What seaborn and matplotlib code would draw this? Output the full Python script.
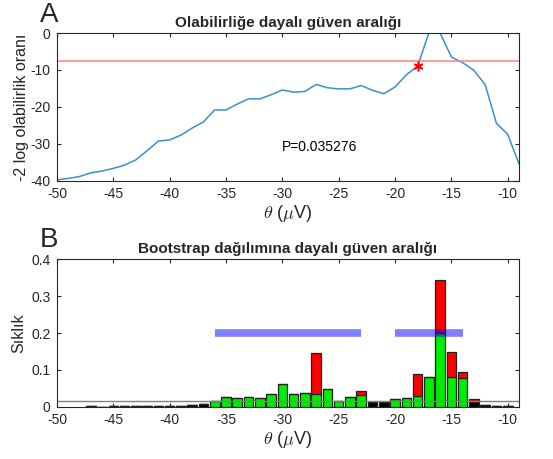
import numpy as np
import pandas as pd
import matplotlib
matplotlib.use('Agg')
import matplotlib.pyplot as plt
import seaborn as sns

# --- panel A: profile likelihood ---
theta_lik = [-50, -49, -48, -47, -46, -45, -44, -43, -42, -41, -40, -39, -38, -37,
             -36, -35, -34, -33, -32, -31, -30, -29, -28, -27, -26, -25, -24, -23,
             -22, -21, -20, -19, -18, -17, -16, -15, -14, -13, -12, -11, -10, -9]
loglik = [-39.7, -39.3, -38.8, -37.8, -37.3, -36.6, -35.7, -34.3, -31.8, -29.2, -28.9,
          -27.6, -25.7, -24.0, -20.8, -20.8, -19.2, -17.8, -17.8, -16.7, -15.4, -16.0,
          -15.8, -13.9, -14.8, -15.1, -15.1, -14.2, -15.5, -16.4, -14.6, -11.3, -9.0,
          0.0, 0.0, -6.5, -8.0, -10.1, -14.0, -24.4, -27.4, -35.4]
threshold = -7.7
star_theta, star_val = -18, -8.8
p_text = 'P=0.035276'

# --- panel B: bootstrap distribution ---
theta_boot = [-47, -45, -44, -43, -42, -41, -40, -39, -38, -37, -36, -35, -34, -33,
              -32, -31, -30, -29, -28, -27, -26, -25, -24, -23, -22, -21, -20, -19,
              -18, -17, -16, -15, -14, -13, -12, -11, -10]
green = [0, 0, 0, 0, 0, 0, 0, 0, 0, 0, 0.017, 0.027, 0.025, 0.027, 0.025, 0.036,
         0.061, 0.036, 0.039, 0.036, 0.049, 0.017, 0.027, 0.033, 0, 0, 0.021, 0.024,
         0.030, 0.082, 0.200, 0.082, 0.078, 0, 0, 0, 0]
red = [0, 0, 0, 0, 0, 0, 0, 0, 0, 0, 0, 0, 0, 0, 0, 0, 0, 0, 0, 0.111, 0, 0, 0,
       0.009, 0, 0, 0, 0, 0.058, 0, 0.143, 0.066, 0.016, 0.006, 0, 0, 0]
black = [0.003, 0.002, 0.002, 0.002, 0.002, 0.002, 0.002, 0.003, 0.006, 0.009, 0, 0,
         0, 0, 0, 0, 0, 0, 0, 0, 0, 0, 0, 0, 0.013, 0.013, 0, 0, 0, 0, 0, 0, 0,
         0.015, 0.005, 0.003, 0.003]
baseline = 0.016
ci_segments = [(-36, -23), (-20, -14)]
ci_level = 0.2

sns.set_theme(style='white')
plt.rcParams['font.family'] = ['Liberation Sans', 'DejaVu Sans']
plt.rcParams['mathtext.fontset'] = 'cm'
plt.rcParams['axes.unicode_minus'] = False
axcol = '#262626'

fig = plt.figure(figsize=(5.53, 4.59), dpi=100)
ax1 = fig.add_axes([0.103, 0.6057, 0.8355, 0.3224])
ax2 = fig.add_axes([0.103, 0.1133, 0.8355, 0.3224])

# panel A
lik = pd.DataFrame({'theta': theta_lik, 'loglik': loglik})
sns.lineplot(data=lik, x='theta', y='loglik', ax=ax1, color='#3a8fd0', lw=1.1)
ax1.axhline(threshold, color='#ff8080', lw=1.1)
ax1.plot(star_theta, star_val, marker=(6, 2, 0), color='red', ms=7, mew=1.1)
ax1.text(-26.7, -30.7, p_text, ha='center', va='center', fontsize=10, color='black')
ax1.set_xlim(-50, -9)
ax1.set_ylim(-40, 0)
ax1.set_xticks(np.arange(-50, -9, 5))
ax1.set_yticks([-40, -30, -20, -10, 0])
ax1.set_title('Olabilirliğe dayalı güven aralığı', fontsize=11, fontweight='bold', pad=4)
ax1.set_ylabel('-2 log olabilirlik oranı', fontsize=11.5, color=axcol, labelpad=1)
ax1.set_xlabel(r'$\theta$ ($\mu$V)', fontsize=13, color=axcol, labelpad=1)

# panel B
rows = []
for t, g, r, b in zip(theta_boot, green, red, black):
    rows += [(t, 'red', r), (t, 'green', g), (t, 'black', b)]
boot = pd.DataFrame(rows, columns=['theta', 'part', 'freq'])
sns.histplot(data=boot, x='theta', weights='freq', hue='part', multiple='stack',
             hue_order=['red', 'green', 'black'], discrete=True, shrink=0.85,
             palette={'red': '#ff0000', 'green': '#00ee00', 'black': '#000000'},
             edgecolor='#222222', linewidth=0.9, alpha=1, legend=False, ax=ax2)
ax2.axhline(baseline, color='#808080', lw=1.0)
for lo, hi in ci_segments:
    ax2.plot([lo, hi], [ci_level, ci_level], color='#0000ff', alpha=0.5, lw=5.5,
             solid_capstyle='butt')
ax2.set_xlim(-50, -9)
ax2.set_ylim(0, 0.4)
ax2.set_xticks(np.arange(-50, -9, 5))
ax2.set_yticks([0, 0.1, 0.2, 0.3, 0.4])
ax2.set_yticklabels(['0', '0.1', '0.2', '0.3', '0.4'])
ax2.set_title('Bootstrap dağılımına dayalı güven aralığı', fontsize=11, fontweight='bold', pad=4)
ax2.set_ylabel('Sıklık', fontsize=11.5, color=axcol, labelpad=4)
ax2.set_xlabel(r'$\theta$ ($\mu$V)', fontsize=13, color=axcol, labelpad=1)

for ax in (ax1, ax2):
    for s in ax.spines.values():
        s.set_color(axcol)
        s.set_linewidth(0.8)
    ax.tick_params(direction='in', length=3, width=0.8, color=axcol, labelcolor=axcol,
                   labelsize=10, top=True, right=True, bottom=True, left=True)
    ax.tick_params(axis='x', pad=4.5)
    ax.tick_params(axis='y', pad=4.5)

fig.text(0.072, 0.953, 'A', fontsize=20, ha='left', va='baseline')
fig.text(0.072, 0.461, 'B', fontsize=20, ha='left', va='baseline')

fig.savefig('out.png', dpi=100)
